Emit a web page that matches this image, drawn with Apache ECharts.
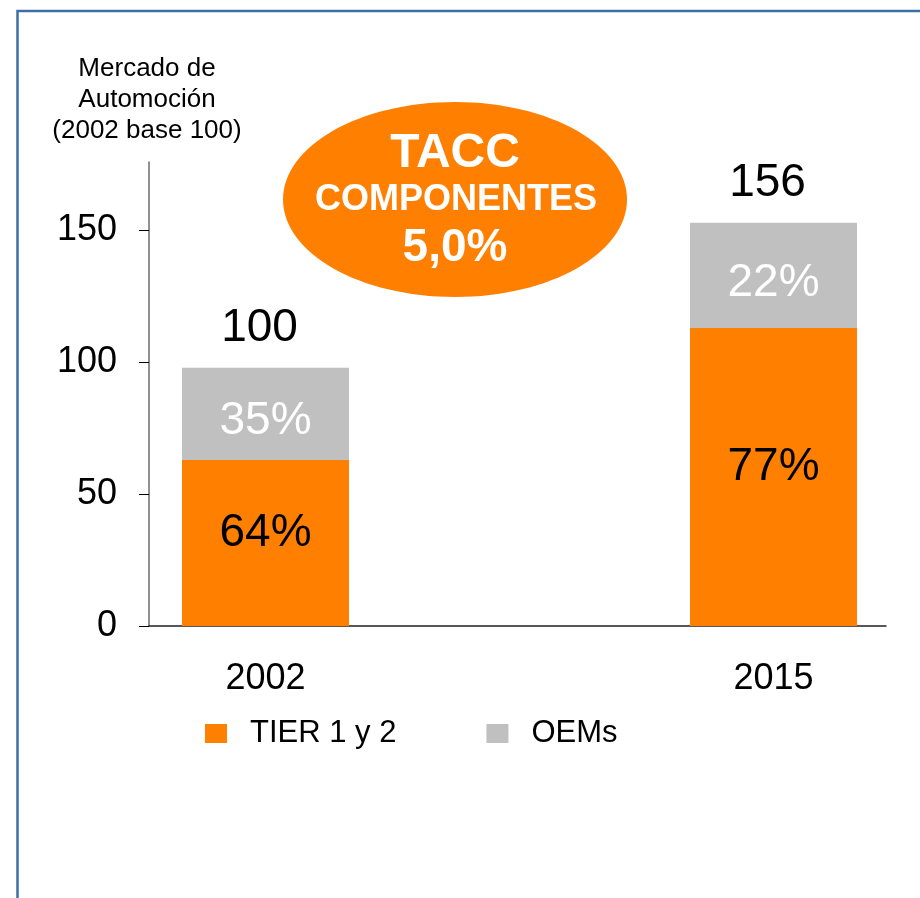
<!DOCTYPE html>
<html>
<head>
<meta charset="utf-8">
<script src="https://cdn.jsdelivr.net/npm/echarts@6/dist/echarts.min.js"></script>
<style>
html, body { margin: 0; padding: 0; background: #fff; }
#chart { width: 920px; height: 898px; }
</style>
</head>
<body>
<div id="chart"></div>
<script>
// datos
var years = ['2002', '2015'];
var tierValues = [63, 113];
var oemValues = [35, 40];
var tierPct = ['64%', '77%'];
var oemPct = ['35%', '22%'];
var totals = ['100', '156'];
var yTicks = [0, 50, 100, 150];

var FONT = 'Liberation Sans, Arial, sans-serif';
var ORANGE = '#FF7F00';
var GREY = '#C0C0C0';

var myChart = echarts.init(document.getElementById('chart'));

var option = {
	animation: false,
	grid: [
		// rejilla de los ejes visibles
		{ left: 149, right: 34, top: 162, bottom: 272 },
		// rejilla de las barras
		{ left: 265.5, right: 146.5, top: 162, bottom: 272 }
	],
	legend: {
		left: 200,
		top: 713,
		icon: 'rect',
		itemWidth: 22,
		itemHeight: 19,
		itemGap: 90,
		textStyle: {
			fontFamily: FONT,
			fontSize: 31,
			color: '#000',
			padding: [0, 0, 0, 18]
		},
		data: ['TIER 1 y 2', 'OEMs']
	},
	xAxis: [{
		gridIndex: 0,
		type: 'value',
		min: 0,
		max: 1,
		axisLine: { show: true, lineStyle: { color: '#222', width: 1.5 } },
		axisTick: { show: false },
		axisLabel: { show: false },
		splitLine: { show: false }
	}, {
		gridIndex: 1,
		type: 'category',
		boundaryGap: false,
		data: years,
		axisLine: { show: false },
		axisTick: { show: false },
		axisLabel: {
			fontFamily: FONT,
			fontSize: 36,
			color: '#000',
			margin: 35
		}
	}],
	yAxis: [{
		gridIndex: 0,
		type: 'value',
		min: 0,
		max: 176,
		interval: 50,
		axisLine: { show: true, lineStyle: { color: '#6b6b6b', width: 1.5 } },
		axisTick: { show: true, length: 10, customValues: yTicks, lineStyle: { color: '#000' } },
		axisLabel: {
			fontFamily: FONT,
			fontSize: 36,
			color: '#000',
			margin: 32,
			customValues: yTicks
		},
		splitLine: { show: false }
	}, {
		gridIndex: 1,
		type: 'value',
		min: 0,
		max: 176,
		show: false
	}],
	series: [{
		name: 'TIER 1 y 2',
		type: 'bar',
		stack: 'total',
		xAxisIndex: 1,
		yAxisIndex: 1,
		barWidth: 167,
		clip: false,
		itemStyle: { color: ORANGE },
		label: {
			show: true,
			position: 'inside',
			offset: [0, -10],
			fontFamily: FONT,
			fontSize: 46,
			color: '#000',
			formatter: function (p) { return tierPct[p.dataIndex]; }
		},
		data: tierValues
	}, {
		name: 'OEMs',
		type: 'bar',
		stack: 'total',
		xAxisIndex: 1,
		yAxisIndex: 1,
		barWidth: 167,
		clip: false,
		itemStyle: { color: GREY },
		label: {
			show: true,
			position: 'inside',
			offset: [0, 8],
			fontFamily: FONT,
			fontSize: 46,
			color: '#fff',
			formatter: function (p) { return oemPct[p.dataIndex]; }
		},
		data: oemValues
	}, {
		// solo para la etiqueta del total encima de la pila
		name: 'total',
		type: 'bar',
		stack: 'total',
		xAxisIndex: 1,
		yAxisIndex: 1,
		barWidth: 167,
		clip: false,
		silent: true,
		itemStyle: { color: 'transparent' },
		label: {
			show: true,
			position: 'top',
			distance: 16,
			offset: [-6, 0],
			fontFamily: FONT,
			fontSize: 46,
			color: '#000',
			formatter: function (p) { return totals[p.dataIndex]; }
		},
		data: years.map(function () { return 0; })
	}],
	graphic: [{
		type: 'rect',
		silent: true,
		shape: { x: 17.5, y: 11, width: 1000, height: 1000 },
		style: { fill: 'none', stroke: '#3E70A8', lineWidth: 2.5 }
	}, {
		type: 'text',
		silent: true,
		x: 147,
		y: 53,
		style: {
			text: 'Mercado de\nAutomoción\n(2002 base 100)',
			font: '26px ' + FONT,
			lineHeight: 31,
			fill: '#000',
			textAlign: 'center',
			textVerticalAlign: 'top'
		}
	}, {
		type: 'ellipse',
		silent: true,
		shape: { cx: 455, cy: 199.5, rx: 172, ry: 97.5 },
		style: { fill: ORANGE }
	}, {
		type: 'text',
		silent: true,
		x: 455,
		y: 154,
		style: {
			text: 'TACC',
			font: 'bold 48px ' + FONT,
			fill: '#fff',
			textAlign: 'center',
			textVerticalAlign: 'middle'
		}
	}, {
		type: 'text',
		silent: true,
		x: 456,
		y: 200,
		style: {
			text: 'COMPONENTES',
			font: 'bold 36px ' + FONT,
			fill: '#fff',
			textAlign: 'center',
			textVerticalAlign: 'middle'
		}
	}, {
		type: 'text',
		silent: true,
		x: 455,
		y: 248,
		style: {
			text: '5,0%',
			font: 'bold 46px ' + FONT,
			fill: '#fff',
			textAlign: 'center',
			textVerticalAlign: 'middle'
		}
	}]
};

myChart.clear();
myChart.setOption(option);
</script>
</body>
</html>
